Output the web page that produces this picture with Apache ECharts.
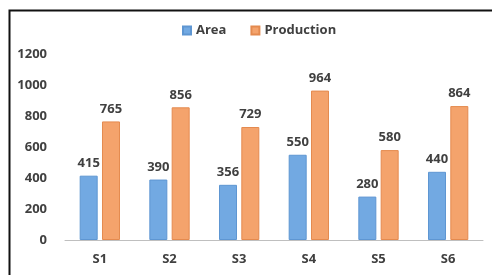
<!DOCTYPE html>
<html>
<head>
<meta charset="utf-8">
<script src="https://cdn.jsdelivr.net/npm/echarts@6/dist/echarts.min.js"></script>
<style>
  html, body { margin: 0; padding: 0; background: #fff; }
  #chart { width: 492px; height: 275px; }
</style>
</head>
<body>
<div id="chart"></div>
<script>
// chart data
const categories = ['S1', 'S2', 'S3', 'S4', 'S5', 'S6'];
const areaValues = [415, 390, 356, 550, 280, 440];
const productionValues = [765, 856, 729, 964, 580, 864];
const seriesNames = ['Area', 'Production'];

const textColor = '#404040';
const fontFamily = '"Open Sans", sans-serif';

const chart = echarts.init(document.getElementById('chart'));

chart.setOption({
  animation: false,
  backgroundColor: '#fff',
  textStyle: { fontFamily: fontFamily },
  // frame around the chart (right and bottom edges run off the picture)
  graphic: [{
    type: 'rect',
    left: 7,
    top: 8,
    shape: { width: 520, height: 300 },
    style: { fill: 'none', stroke: '#111', lineWidth: 2 },
    silent: true
  }],
  legend: {
    data: seriesNames,
    left: 177,
    top: 19,
    itemWidth: 8,
    itemHeight: 8,
    itemGap: 24,
    icon: 'rect',
    textStyle: { color: textColor, fontSize: 13, fontWeight: 'bold', fontFamily: fontFamily }
  },
  grid: { left: 65, right: 9, top: 54, bottom: 35 },
  xAxis: {
    type: 'category',
    data: categories,
    axisTick: { show: false },
    axisLine: { lineStyle: { color: '#bfbfbf', width: 1 } },
    axisLabel: { color: textColor, fontSize: 13, fontWeight: 'bold', margin: 13 }
  },
  yAxis: {
    type: 'value',
    min: 0,
    max: 1200,
    interval: 200,
    splitLine: { show: false },
    axisLine: { show: false },
    axisTick: { show: false },
    axisLabel: {
      color: textColor,
      fontSize: 13,
      fontWeight: 'bold',
      margin: 18,
      formatter: v => String(v)
    }
  },
  series: [{
    name: seriesNames[0],
    type: 'bar',
    data: areaValues,
    barWidth: 18,
    barGap: '24%',
    itemStyle: { color: '#72a9e2', borderColor: '#5e96d2', borderWidth: 1 },
    label: {
      show: true,
      position: 'top',
      distance: 6,
      color: textColor,
      fontSize: 13,
      fontWeight: 'bold'
    }
  }, {
    name: seriesNames[1],
    type: 'bar',
    data: productionValues,
    barWidth: 18,
    itemStyle: { color: '#f4a36c', borderColor: '#e48a4f', borderWidth: 1 },
    label: {
      show: true,
      position: 'top',
      distance: 6,
      color: textColor,
      fontSize: 13,
      fontWeight: 'bold'
    }
  }]
});
</script>
</body>
</html>
